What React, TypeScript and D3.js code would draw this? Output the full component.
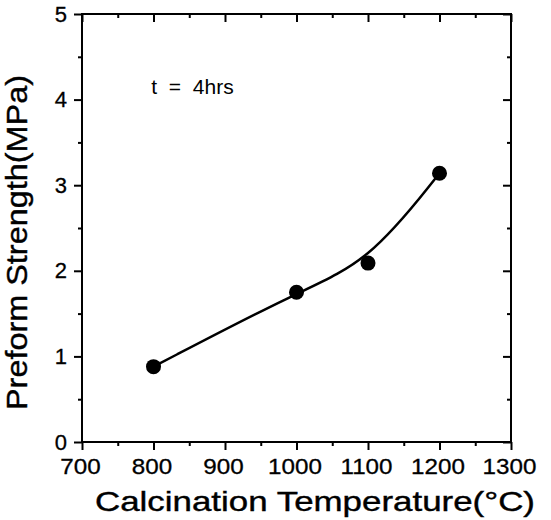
import React, { useEffect, useRef } from 'react';
import * as d3 from 'd3';

const temperatures = [800, 1000, 1100, 1200];
const strengths = [0.88, 1.75, 2.09, 3.14];
const xTicks = [700, 800, 900, 1000, 1100, 1200, 1300];
const yTicks = [0, 1, 2, 3, 4, 5];

const App = () => {
	const ref = useRef<SVGSVGElement>(null);

	useEffect(() => {
		const width = 551;
		const height = 520;
		const margin = { left: 82, top: 14, right: 40, bottom: 78 };
		const w = width - margin.left - margin.right;
		const h = height - margin.top - margin.bottom;
		const font = '"Liberation Sans", Arial, sans-serif';

		const svg = d3.select(ref.current);
		svg.selectAll('*').remove();

		const chart = svg
			.append('g')
			.attr('transform', `translate(${margin.left}, ${margin.top})`);

		const xScale = d3.scaleLinear().domain([700, 1300]).range([0, w]);
		const yScale = d3.scaleLinear().domain([0, 5]).range([h, 0]);

		const xMinor = d3.range(750, 1300, 100);
		const yMinor = d3.range(0.5, 5, 1);

		// bottom: outward ticks with labels
		const bottom = chart
			.append('g')
			.attr('transform', `translate(0, ${h})`)
			.call(
				d3.axisBottom(xScale)
					.tickValues(xTicks)
					.tickFormat(d3.format('d'))
					.tickSize(8)
					.tickPadding(8)
					.tickSizeOuter(0)
			);
		chart
			.append('g')
			.attr('transform', `translate(0, ${h})`)
			.call(d3.axisBottom(xScale).tickValues(xMinor).tickSize(4).tickFormat(() => '').tickSizeOuter(0));

		// left: outward ticks with labels
		chart
			.append('g')
			.call(
				d3.axisLeft(yScale)
					.tickValues(yTicks)
					.tickFormat(d3.format('d'))
					.tickSize(8)
					.tickPadding(7)
					.tickSizeOuter(0)
			);
		chart
			.append('g')
			.call(d3.axisLeft(yScale).tickValues(yMinor).tickSize(4).tickFormat(() => '').tickSizeOuter(0));

		// top and right: inward ticks
		chart.append('g').call(d3.axisTop(xScale).tickValues(xTicks).tickSize(-8).tickFormat(() => '').tickSizeOuter(0));
		chart.append('g').call(d3.axisTop(xScale).tickValues(xMinor).tickSize(-4).tickFormat(() => '').tickSizeOuter(0));
		chart
			.append('g')
			.attr('transform', `translate(${w}, 0)`)
			.call(d3.axisRight(yScale).tickValues(yTicks).tickSize(-8).tickFormat(() => '').tickSizeOuter(0));
		chart
			.append('g')
			.attr('transform', `translate(${w}, 0)`)
			.call(d3.axisRight(yScale).tickValues(yMinor).tickSize(-4).tickFormat(() => '').tickSizeOuter(0));

		chart.selectAll('.domain').remove();
		chart.selectAll('.tick line').attr('stroke', '#000').attr('stroke-width', 2);
		chart
			.selectAll('.tick text')
			.attr('fill', '#000')
			.attr('stroke', '#000')
			.attr('stroke-width', 0.3)
			.style('font-family', font)
			.style('font-size', '22px');
		// scanned labels are a bit wider than Arial
		bottom.selectAll('.tick text').attr('transform', 'translate(-2, 0) scale(1.1, 1)');

		chart
			.append('rect')
			.attr('x', 0)
			.attr('y', 0)
			.attr('width', w)
			.attr('height', h)
			.attr('fill', 'none')
			.attr('stroke', '#000')
			.attr('stroke-width', 2);

		const points = temperatures.map((t, i) => [xScale(t), yScale(strengths[i])] as [number, number]);

		chart
			.append('path')
			.attr('d', d3.line().curve(d3.curveBasis)(points))
			.attr('fill', 'none')
			.attr('stroke', '#000')
			.attr('stroke-width', 2.5);

		chart
			.selectAll('circle')
			.data(points)
			.enter()
			.append('circle')
			.attr('cx', d => d[0])
			.attr('cy', d => d[1])
			.attr('r', 7.5)
			.attr('fill', '#000');

		chart
			.append('text')
			.attr('x', xScale(797))
			.attr('y', yScale(4.07))
			.style('white-space', 'pre')
			.style('font-family', font)
			.style('font-size', '21px')
			.text('t  =  4hrs');

		svg.append('text')
			.attr('x', 95)
			.attr('y', 511)
			.attr('textLength', 440)
			.attr('lengthAdjust', 'spacingAndGlyphs')
			.attr('stroke', '#000')
			.attr('stroke-width', 0.4)
			.style('font-family', font)
			.style('font-size', '28px')
			.text('Calcination Temperature(°C)');

		svg.append('text')
			.attr('transform', 'translate(27, 410) rotate(-90)')
			.attr('x', 0)
			.attr('y', 0)
			.attr('textLength', 335)
			.attr('lengthAdjust', 'spacingAndGlyphs')
			.attr('stroke', '#000')
			.attr('stroke-width', 0.4)
			.style('font-family', font)
			.style('font-size', '29px')
			.text('Preform Strength(MPa)');
	}, []);

	return (
		<svg
			ref={ref}
			width={551}
			height={520}
			style={{ position: 'absolute', left: 0, top: 0, background: '#fff' }}
		/>
	);
};

export default App;
